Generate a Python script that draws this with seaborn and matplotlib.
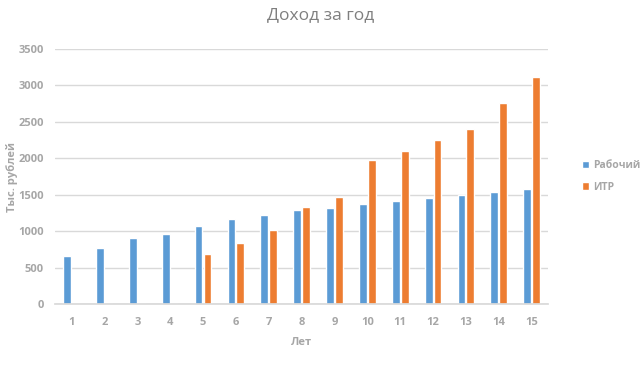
import pandas as pd
import matplotlib.pyplot as plt
import seaborn as sns

sns.set_theme(style="white")
plt.rcParams['font.family'] = ['Open Sans', 'DejaVu Sans']

# data
years = list(range(1, 16))
worker = [665, 775, 900, 965, 1075, 1170, 1225, 1295, 1320, 1375, 1420, 1460, 1500, 1540, 1585]
itr = [0, 0, 0, 0, 690, 842, 1020, 1336, 1473, 1981, 2104, 2255, 2406, 2763, 3120]
series_names = ['Рабочий', 'ИТР']
colors = ['#5B9BD5', '#ED7D31']

df = pd.DataFrame({
    'year': years * 2,
    'value': worker + itr,
    'series': [series_names[0]] * len(years) + [series_names[1]] * len(years),
})

grey = '#A6A6A6'
fs = 8

fig = plt.figure(figsize=(6.41, 3.74), dpi=100)
ax = fig.add_axes([0.086, 0.187, 0.769, 0.682])
sns.barplot(data=df, x='year', y='value', hue='series', palette=colors,
            width=0.54, gap=0.12, ax=ax, saturation=1, legend=True)

ax.set_ylim(0, 3500)
ax.set_xlim(-0.5, 14.5)
ax.set_yticks(range(0, 3501, 500))
ax.yaxis.grid(True, color='#D9D9D9', linewidth=1)
ax.set_axisbelow(True)
for s in ['top', 'right', 'left']:
    ax.spines[s].set_visible(False)
ax.spines['bottom'].set_color('#D9D9D9')
ax.tick_params(axis='both', length=0, colors=grey, labelsize=fs)
ax.tick_params(axis='x', pad=9)
ax.tick_params(axis='y', pad=8)
for lbl in ax.get_xticklabels() + ax.get_yticklabels():
    lbl.set_fontweight('bold')

ax.set_xlabel('Лет', color=grey, fontsize=fs, fontweight='bold', labelpad=7)
ax.set_ylabel('Тыс. рублей', color=grey, fontsize=fs, fontweight='bold', va='center')
ax.yaxis.set_label_coords(-0.087, 0.5)
fig.suptitle('Доход за год', x=0.5, y=0.98, color='#7F7F7F', fontsize=12.5)

leg = ax.legend(loc='center left', bbox_to_anchor=(1.06, 0.5), frameon=False,
                handlelength=0.7, handleheight=0.7, handletextpad=0.35,
                labelspacing=1.0, fontsize=7.5, borderaxespad=0)
for t in leg.get_texts():
    t.set_color(grey)
    t.set_fontweight('bold')

fig.savefig('out.png', dpi=100)
